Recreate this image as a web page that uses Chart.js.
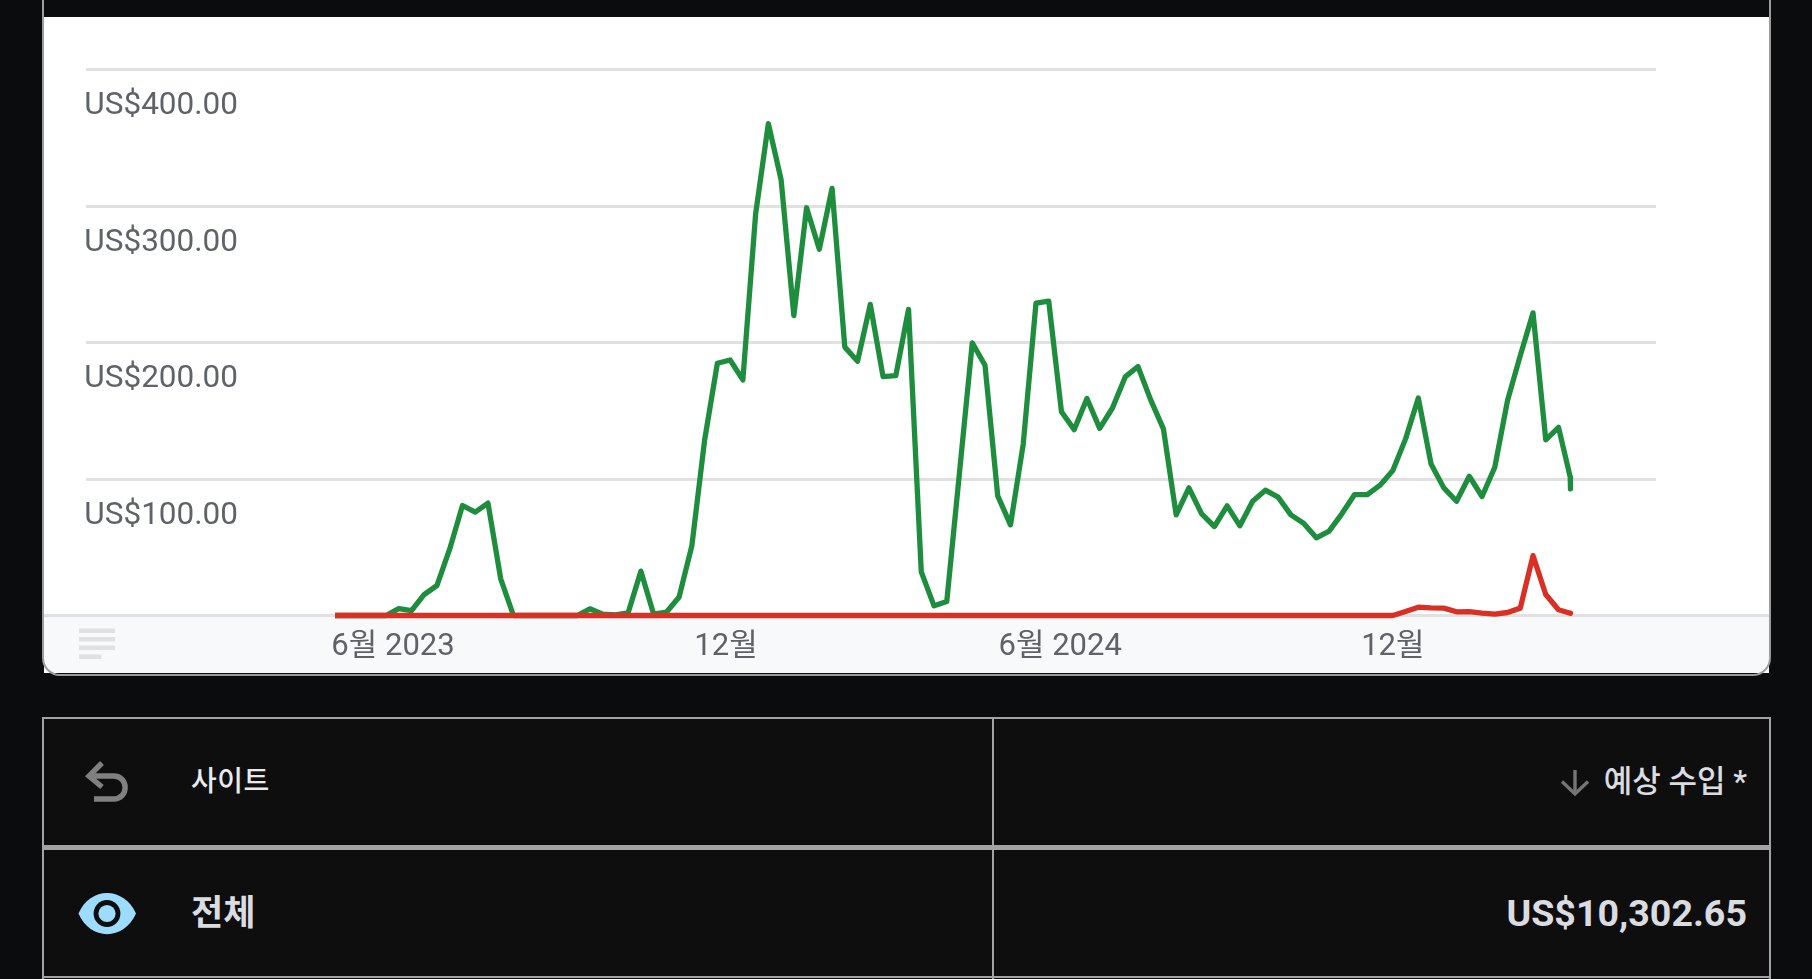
<!DOCTYPE html>
<html lang="ko">
<head>
<meta charset="utf-8">
<title>예상 수입</title>
<script src="https://cdn.jsdelivr.net/npm/chart.js@4"></script>
<style>
html,body{margin:0;padding:0;width:1812px;height:979px;overflow:hidden;background:#0b0c0e;font-family:Roboto,"Noto Sans CJK KR",sans-serif}
.abs{position:absolute}
#card{left:44px;top:17px;width:1725px;height:656px;background:#fff}
#foot{left:44px;top:614px;width:1725px;height:59px;background:#f8f9fa;box-sizing:border-box;border-top:3px solid #dfe1e3}
#frame{left:42px;top:-20px;width:1729px;height:696px;box-sizing:border-box;border:2px solid #9c9c9c;border-radius:18px;pointer-events:none}
#chart{left:0;top:0;display:block}
#tbl{left:43px;top:718px;width:1728px;height:270px;background:#0e0e0f}
.ln{background:#a3a3a3}
.txt{position:absolute;white-space:nowrap;line-height:1}
</style>
</head>
<body>
<div class="abs" id="card"></div>
<div class="abs" id="foot"></div>
<svg class="abs" style="left:0;top:0" width="140" height="679">
  <g fill="#dfe1e3"><rect x="79" y="628.5" width="36" height="4.5"/><rect x="79" y="637" width="36" height="4.5"/><rect x="79" y="645.5" width="36" height="4.5"/><rect x="79" y="654.5" width="22.5" height="4.5"/></g>
</svg>
<canvas class="abs" id="chart" width="1812" height="979"></canvas>
<div class="abs" id="frame"></div>

<div class="abs" id="tbl"></div>
<div class="abs ln" style="left:42px;top:717px;width:1729px;height:2px"></div>
<div class="abs ln" style="left:42px;top:845px;width:1729px;height:5px"></div>
<div class="abs ln" style="left:42px;top:976px;width:1729px;height:2px"></div>
<div class="abs ln" style="left:42px;top:717px;width:2px;height:262px"></div>
<div class="abs ln" style="left:992px;top:717px;width:2px;height:262px"></div>
<div class="abs ln" style="left:1769px;top:717px;width:2px;height:262px"></div>

<svg class="abs" style="left:0;top:700px;overflow:visible" width="1812" height="279">
  <g transform="translate(0,-700)">
    <g fill="none" stroke="#808080" stroke-width="5.4">
      <path d="M102 763 L89 776 L102 787"/>
      <path d="M89 776 H113.5 C129 776 129 799 113.5 799 H94"/>
    </g>
    <path d="M78.5 913.5 C90 886 124 886 136 913.5 C124 941 90 941 78.5 913.5 Z" fill="#9edcff"/>
    <circle cx="107" cy="913.5" r="13.4" fill="#0e0e0f"/>
    <circle cx="107" cy="913.5" r="8.6" fill="#9edcff"/>
    <g fill="none" stroke="#757575" stroke-width="3.4">
      <path d="M1575 770 V794"/><path d="M1562 781.5 L1575 794 L1588 781.5"/>
    </g>
  </g>
</svg>
<div class="txt" style="left:191px;top:768px;font-size:28px;font-weight:500;letter-spacing:0.5px;color:#e8eaed">사이트</div>
<div class="txt" style="right:65px;top:766px;font-size:31px;font-weight:500;color:#dadce0">예상 수입 *</div>
<div class="txt" style="left:191px;top:896px;font-size:35px;font-weight:700;color:#dadce0">전체</div>
<div class="txt" style="right:65px;top:895px;font-size:37.6px;font-weight:700;color:#dadce0">US$10,302.65</div>

<script>
const tickLabels = ['6월 2023', '12월', '6월 2024', '12월'];
const tickWeeks = [4.55, 30.68, 56.9, 83.0];
const yTicks = [0, 100, 200, 300, 400];
const weeks = [0,1,2,3,4,5,6,7,8,9,10,11,12,13,14,15,16,17,18,19,20,21,22,23,24,25,26,27,28,29,30,31,32,33,34,35,36,37,38,39,40,41,42,43,44,45,46,47,48,49,50,51,52,53,54,55,56,57,58,59,60,61,62,63,64,65,66,67,68,69,70,71,72,73,74,75,76,77,78,79,80,81,82,83,84,85,86,87,88,89,90,91,92,93,94,95,96,96.92,96.94];
const greenSeries = [0,0,0,0,0,5,3.5,15.4,22,48.8,80.6,75.7,82.3,26.9,0,0,0,0,0,0,4.9,1,0.5,2,32.5,1,2.4,13.6,51.2,128.6,184.8,187.2,172.6,294,360.3,319.3,219.7,298.7,268.3,312.9,196.6,186.3,227.9,175,175.7,224.3,32,7.1,10.2,104.9,199.7,183.3,87.6,66.4,125.6,228.8,230.3,149.3,136.2,159,137.1,152,174.8,182.4,158,136.7,73.7,93.5,74.5,65.2,80.3,65.7,83.7,91.8,86.7,73.7,67.6,56.9,61.8,74.5,88.6,88.6,95.5,106.2,129.4,159.4,111,93.5,83.7,102,87.2,108.6,157.5,190.4,221.7,128.7,137.9,101.3,92.8];
const redSeries = [0,0,0,0,0,0,0,0,0,0,0,0,0,0,0,0,0,0,0,0,0,0,0,0,0,0,0,0,0,0,0,0,0,0,0,0,0,0,0,0,0,0,0,0,0,0,0,0,0,0,0,0,0,0,0,0,0,0,0,0,0,0,0,0,0,0,0,0,0,0,0,0,0,0,0,0,0,0,0,0,0,0,0,0,2.9,6.1,5.6,5.4,2.7,2.9,1.7,1,2.2,5.4,43.9,15.4,4.2,1.7,1.6];

const font = {family: 'Roboto, "Noto Sans CJK KR", sans-serif', size: 31};
const line = (data, color, order) => ({
  data: data.map((y, i) => ({x: weeks[i], y})), order,
  borderColor: color, borderWidth: 5.3, pointRadius: 0, tension: 0, clip: false,
  borderJoinStyle: 'round', borderCapStyle: 'butt', fill: false
});

new Chart(document.getElementById('chart'), {
  type: 'line',
  data: {datasets: [line(greenSeries, '#1e8e3e', 2), line(redSeries, '#d93025', 1)]},
  options: {
    responsive: false, animation: false, events: [],
    layout: {padding: {left: 85.5, right: 156, top: 69.5, bottom: 303.5}},
    plugins: {legend: {display: false}, tooltip: {enabled: false}},
    scales: {
      x: {
        type: 'linear', min: -19.58, max: 103.65,
        grid: {display: false}, border: {display: false},
        afterBuildTicks: s => { s.ticks = tickWeeks.map(value => ({value})); },
        afterFit: s => { s.height = 60; },
        ticks: {
          autoSkip: false, maxRotation: 0, padding: 5, color: '#5f6368', font,
          callback: (v, i) => tickLabels[i]
        }
      },
      y: {
        min: 0, max: 400,
        afterBuildTicks: s => { s.ticks = yTicks.map(value => ({value})); },
        grid: {color: '#e1e1e1', lineWidth: 3, drawTicks: false}, border: {display: false},
        ticks: {
          mirror: true, padding: -0.4, labelOffset: 37, color: '#5f6368', font: {...font, size: 31.5},
          callback: v => v === 0 ? '' : 'US$' + v.toFixed(2)
        }
      }
    }
  }
});
</script>
</body>
</html>
